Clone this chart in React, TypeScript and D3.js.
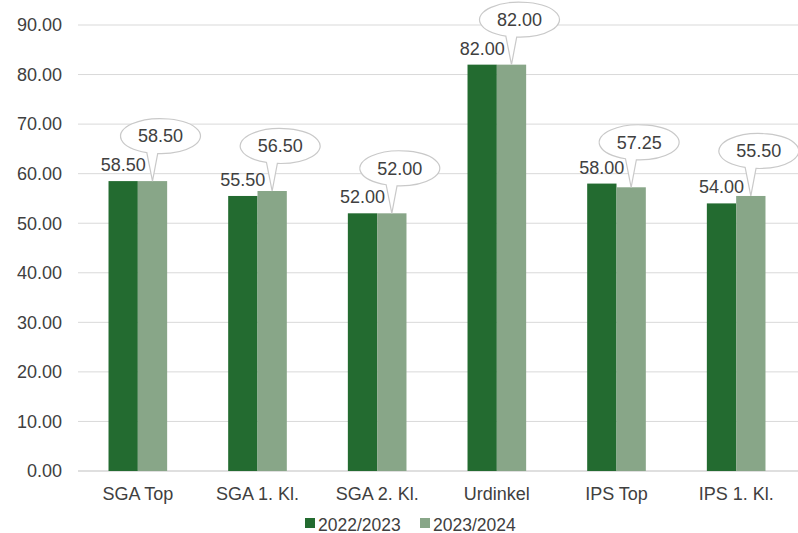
import React from "react";
import * as d3 from "d3";

const categories = ["SGA Top", "SGA 1. Kl.", "SGA 2. Kl.", "Urdinkel", "IPS Top", "IPS 1. Kl."];
const seriesNames = ["2022/2023", "2023/2024"];
const values2022 = [58.5, 55.5, 52.0, 82.0, 58.0, 54.0];
const values2023 = [58.5, 56.5, 52.0, 82.0, 57.25, 55.5];
const yTicks = [0, 10, 20, 30, 40, 50, 60, 70, 80, 90];

const W = 798;
const H = 533;
const margin = { top: 25, right: 2, bottom: 62, left: 78 };
const colors = ["#236b30", "#88a688"];
const font = "'Liberation Sans', Arial, sans-serif";
const textColor = "#404040";
const fs = 18;

export default function App() {
  const x = d3
    .scaleBand<string>()
    .domain(categories)
    .range([margin.left, W - margin.right]);
  const y = d3.scaleLinear().domain([0, 90]).range([H - margin.bottom, margin.top]);
  const groupW = x.bandwidth() * 0.49;
  const inner = d3.scaleBand<string>().domain(seriesNames).range([0, groupW]);
  const series = [values2022, values2023];

  // callout shape: ellipse outline with a wedge pointing at the bar top
  const callout = (tipX: number, tipY: number) => {
    const cx = tipX + 8;
    const cy = tipY - 45;
    const rx = 40;
    const ry = 17.5;
    const pt = (deg: number) => {
      const a = (deg * Math.PI) / 180;
      return [cx + rx * Math.cos(a), cy + ry * Math.sin(a)];
    };
    const A = pt(110);
    const B = pt(94);
    const d = `M${A[0]},${A[1]} A${rx},${ry} 0 1 1 ${B[0]},${B[1]} L${tipX},${tipY} Z`;
    return { d, cx, cy };
  };

  return (
    <svg
      width={W}
      height={H}
      style={{ position: "absolute", left: 0, top: 0, background: "#fff" }}
      fontFamily={font}
    >
      {/* grid + y labels */}
      {yTicks.map((t) => (
        <g key={t}>
          <line
            x1={margin.left}
            x2={W}
            y1={y(t)}
            y2={y(t)}
            stroke={t === 0 ? "#bfbfbf" : "#d9d9d9"}
            strokeWidth={1}
          />
          <text
            x={62}
            y={y(t)}
            dy="0.35em"
            textAnchor="end"
            fontSize={fs}
            fill={textColor}
          >
            {t.toFixed(2)}
          </text>
        </g>
      ))}

      {/* bars */}
      {categories.map((c, i) => {
        const gx = (x(c) as number) + (x.bandwidth() - groupW) / 2;
        return (
          <g key={c}>
            {series.map((vals, s) => (
              <rect
                key={s}
                x={gx + (inner(seriesNames[s]) as number)}
                y={y(vals[i])}
                width={inner.bandwidth()}
                height={y(0) - y(vals[i])}
                fill={colors[s]}
              />
            ))}
          </g>
        );
      })}

      {/* labels of first series */}
      {categories.map((c, i) => {
        const gx = (x(c) as number) + (x.bandwidth() - groupW) / 2;
        const bx = gx + (inner(seriesNames[0]) as number) + inner.bandwidth() / 2;
        return (
          <text
            key={c}
            x={bx}
            y={y(values2022[i]) - 10}
            textAnchor="middle"
            fontSize={fs}
            fill={textColor}
          >
            {values2022[i].toFixed(2)}
          </text>
        );
      })}

      {/* callouts of second series */}
      {categories.map((c, i) => {
        const gx = (x(c) as number) + (x.bandwidth() - groupW) / 2;
        const bx = gx + (inner(seriesNames[1]) as number) + inner.bandwidth() / 2;
        const co = callout(bx, y(values2023[i]));
        return (
          <g key={c}>
            <path d={co.d} fill="#fff" stroke="#c9c9c9" strokeWidth={1.2} />
            <text
              x={co.cx}
              y={co.cy}
              dy="0.35em"
              textAnchor="middle"
              fontSize={fs}
              fill={textColor}
            >
              {values2023[i].toFixed(2)}
            </text>
          </g>
        );
      })}

      {/* x labels */}
      {categories.map((c) => (
        <text
          key={c}
          x={(x(c) as number) + x.bandwidth() / 2}
          y={500}
          textAnchor="middle"
          fontSize={fs}
          fill={textColor}
        >
          {c}
        </text>
      ))}

      {/* legend */}
      {seriesNames.map((n, s) => {
        const lx = 305 + s * 115;
        return (
          <g key={n}>
            <rect x={lx} y={518} width={10} height={10} fill={colors[s]} />
            <text x={lx + 13} y={530.5} fontSize={17.5} fill={textColor}>
              {n}
            </text>
          </g>
        );
      })}
    </svg>
  );
}
